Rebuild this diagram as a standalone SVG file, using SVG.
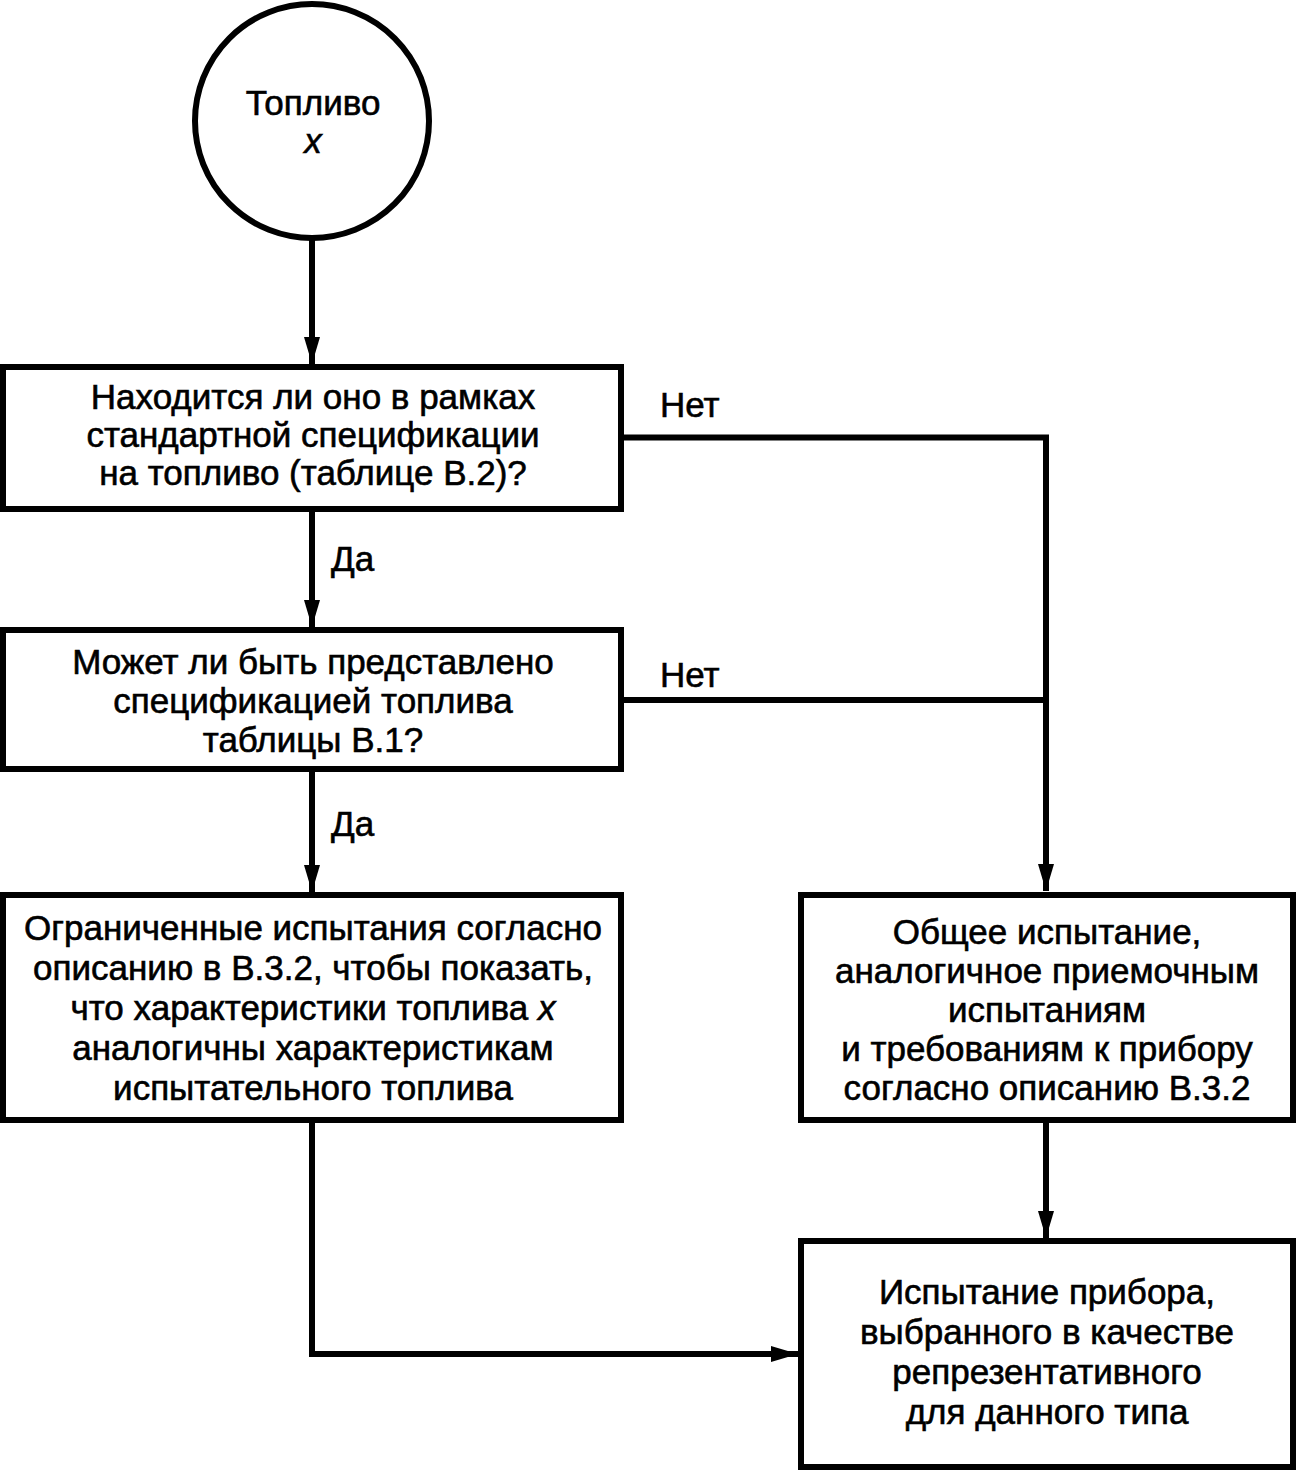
<svg xmlns="http://www.w3.org/2000/svg" width="1296" height="1470" viewBox="0 0 1296 1470">
<style>
.n{fill:#fff;stroke:#000;stroke-width:6}
.c{fill:none;stroke:#000;stroke-width:6}
text{font-family:"Liberation Sans",Arial,sans-serif;font-size:35px;fill:#000;stroke:#000;stroke-width:0.6;text-anchor:middle}
.l{text-anchor:start}
</style>
<defs>
<marker id="ah" viewBox="0 0 27 16" refX="27" refY="8" markerWidth="27" markerHeight="16" markerUnits="userSpaceOnUse" orient="auto">
<path d="M0,0 L27,8 L0,16 Z" fill="#000"/>
</marker>
</defs>
<rect width="1296" height="1470" fill="#fff"/>
<g id="connectors">
<line class="c" x1="312" y1="240" x2="312" y2="364" marker-end="url(#ah)"/>
<line class="c" x1="312" y1="509" x2="312" y2="627" marker-end="url(#ah)"/>
<line class="c" x1="312" y1="769" x2="312" y2="892" marker-end="url(#ah)"/>
<polyline class="c" points="621,437.5 1046,437.5 1046,891" marker-end="url(#ah)"/>
<line class="c" x1="621" y1="700" x2="1046" y2="700"/>
<line class="c" x1="1046" y1="1120" x2="1046" y2="1238" marker-end="url(#ah)"/>
<polyline class="c" points="312,1120 312,1354 798,1354" marker-end="url(#ah)"/>
<text class="l" x="660" y="417">Нет</text>
<text class="l" x="660" y="687">Нет</text>
<text class="l" x="331" y="571">Да</text>
<text class="l" x="331" y="836">Да</text>
</g>
<g id="start">
<circle class="n" cx="312" cy="121" r="117"/>
<text x="313" y="115">Топливо</text>
<text x="313" y="153" font-style="italic">x</text>
</g>
<g id="q1">
<rect class="n" x="3" y="367" width="618" height="142"/>
<text x="313" y="409">Находится ли оно в рамках</text>
<text x="313" y="447">стандартной спецификации</text>
<text x="313" y="485">на топливо (таблице В.2)?</text>
</g>
<g id="q2">
<rect class="n" x="3" y="630" width="618" height="139"/>
<text x="313" y="674">Может ли быть представлено</text>
<text x="313" y="713">спецификацией топлива</text>
<text x="313" y="752">таблицы В.1?</text>
</g>
<g id="limited">
<rect class="n" x="3" y="895" width="618" height="225"/>
<text x="313" y="940">Ограниченные испытания согласно</text>
<text x="313" y="980">описанию в В.3.2, чтобы показать,</text>
<text x="313" y="1020">что характеристики топлива <tspan font-style="italic">x</tspan></text>
<text x="313" y="1060">аналогичны характеристикам</text>
<text x="313" y="1100">испытательного топлива</text>
</g>
<g id="general">
<rect class="n" x="801" y="895" width="492" height="225"/>
<text x="1047" y="944">Общее испытание,</text>
<text x="1047" y="983">аналогичное приемочным</text>
<text x="1047" y="1022">испытаниям</text>
<text x="1047" y="1061">и требованиям к прибору</text>
<text x="1047" y="1100">согласно описанию В.3.2</text>
</g>
<g id="device">
<rect class="n" x="801" y="1241" width="492" height="226"/>
<text x="1047" y="1304">Испытание прибора,</text>
<text x="1047" y="1344">выбранного в качестве</text>
<text x="1047" y="1384">репрезентативного</text>
<text x="1047" y="1424">для данного типа</text>
</g>
</svg>
